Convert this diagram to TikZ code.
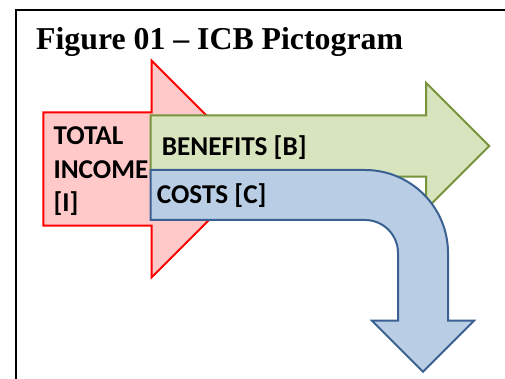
\documentclass[tikz,border=0pt]{standalone}
\usepackage{fontspec}
\usepackage{tikz}
\newfontfamily\titlefont{Liberation Serif}
\newfontfamily\labelfont{Carlito}
\definecolor{incfill}{HTML}{FFC9C9}
\definecolor{incline}{HTML}{FF0000}
\definecolor{benfill}{HTML}{D7E4BD}
\definecolor{benline}{HTML}{77933C}
\definecolor{costfill}{HTML}{B9CDE5}
\definecolor{costline}{HTML}{3A6191}

\begin{document}
\begin{tikzpicture}[line cap=round,line join=miter,x=1pt,y=1pt,
    income/.style={fill=incfill,draw=incline,line width=2pt},
    benefit/.style={fill=benfill,draw=benline,line width=2pt},
    cost/.style={fill=costfill,draw=costline,line width=2pt},
    lbl/.style={inner sep=0pt,font=\labelfont\bfseries\fontsize{27.2}{33.5}\selectfont}]
    \useasboundingbox (0,0) rectangle (505,379);

    % frame
    \draw[line width=1.8pt,line cap=butt] (16,0) -- (16,369) -- (505,369);
    \node[anchor=base west,inner sep=0pt,font=\titlefont\bfseries\fontsize{31.8}{38}\selectfont]
        (title) at (36,329.5) {Figure 01 – ICB Pictogram};

    % income
    \draw[income] (43.3,266.7) -- (151.7,266.7) -- (151.7,318.3) -- (260,210)
        -- (151.7,101.7) -- (151.7,153.3) -- (43.3,153.3) -- cycle;
    % benefits
    \draw[benefit] (150.7,263.7) -- (426,263.7) -- (426,296.3) -- (489.3,233)
        -- (426,169.7) -- (426,202.3) -- (150.7,202.3) -- cycle;
    % costs
    \draw[cost] (150.7,209) -- (365,209) arc[start angle=90,end angle=0,radius=83]
        -- (448,58.3) -- (474,58.3) -- (423,7.3) -- (372,58.3) -- (398,58.3)
        -- (398,126) arc[start angle=0,end angle=90,radius=33]
        -- (150.7,159) -- cycle;

    \node[lbl,anchor=base west,align=left] (inc) at (53.3,167) {TOTAL\\INCOME\\{[I]}};
    \node[lbl,anchor=base west] (ben) at (161.7,223) {BENEFITS [B]};
    \node[lbl,anchor=base west] (cst) at (156.7,175) {COSTS [C]};
\end{tikzpicture}
\end{document}
